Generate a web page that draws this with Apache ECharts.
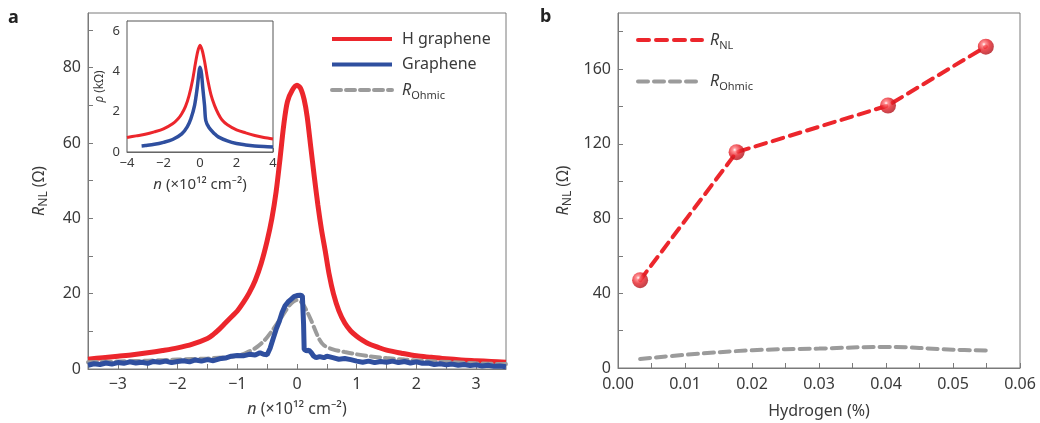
<!DOCTYPE html>
<html>
<head>
<meta charset="utf-8">
<script src="https://cdn.jsdelivr.net/npm/echarts@6/dist/echarts.min.js"></script>
<style>
  html, body { margin: 0; padding: 0; background: #fff; }
  #chart { width: 1040px; height: 423px; }
</style>
</head>
<body>
<div id="chart"></div>
<script>
// ---- panel a, main plot: n (x10^12 cm^-2) vs R_NL (ohm)
const hGraphene = [
  [-3.5,2.6],[-3.25,3.0],[-3.0,3.4],[-2.75,3.8],[-2.5,4.3],[-2.25,4.9],[-2.0,5.6],[-1.75,6.6],
  [-1.5,8.1],[-1.4,9.2],[-1.3,10.6],[-1.2,12.2],[-1.1,13.8],[-1.0,15.4],[-0.9,17.6],[-0.8,20.2],
  [-0.7,23.5],[-0.6,28.0],[-0.5,34.0],[-0.42,40],[-0.35,47],[-0.29,55],[-0.22,65],[-0.16,71],
  [-0.08,74],[0,75.3],[0.06,74.5],[0.12,71.5],[0.17,67],[0.23,59],[0.29,51],[0.35,43.5],
  [0.41,37],[0.47,31.6],[0.54,25],[0.61,20],[0.7,15.5],[0.8,12.2],[0.9,10.1],[1.0,8.7],
  [1.1,7.6],[1.2,6.7],[1.35,5.8],[1.5,5.0],[1.75,4.2],[2.0,3.5],[2.25,3.1],[2.5,2.7],
  [2.75,2.4],[3.0,2.2],[3.25,2.0],[3.5,1.8]
];
const graphene = [
  [-3.5,1.0],[-3.4,1.4],[-3.3,1.2],[-3.2,1.6],[-3.1,1.3],[-3.0,1.7],[-2.9,1.5],[-2.8,1.9],
  [-2.7,1.6],[-2.6,1.8],[-2.5,1.5],[-2.4,2.0],[-2.3,1.8],[-2.2,2.1],[-2.1,1.7],[-2.0,2.0],
  [-1.9,2.2],[-1.8,1.9],[-1.7,2.4],[-1.6,2.1],[-1.5,2.5],[-1.4,2.2],[-1.3,2.7],[-1.2,2.9],
  [-1.1,3.4],[-1.0,3.6],[-0.9,3.5],[-0.8,3.9],[-0.7,3.7],[-0.62,4.3],[-0.56,3.9],[-0.5,3.8],
  [-0.45,5.5],[-0.4,8.0],[-0.35,10.5],[-0.3,12.5],[-0.25,15.0],[-0.2,16.8],[-0.15,17.8],[-0.1,18.5],
  [-0.05,19.2],[0,19.5],[0.05,19.6],[0.09,19.4],[0.11,12],[0.12,5.2],[0.16,4.8],[0.2,5.0],
  [0.24,4.3],[0.28,3.4],[0.32,3.0],[0.38,3.3],[0.45,3.0],[0.5,3.4],[0.6,3.0],[0.7,2.6],
  [0.8,2.8],[0.9,2.5],[1.0,2.1],[1.1,1.8],[1.2,2.1],[1.3,1.7],[1.4,2.0],[1.5,1.8],
  [1.6,2.1],[1.7,1.7],[1.8,2.0],[1.9,1.6],[2.0,1.9],[2.1,1.5],[2.2,1.6],[2.3,1.2],
  [2.4,1.4],[2.5,1.1],[2.6,1.3],[2.7,1.0],[2.8,1.2],[2.9,0.9],[3.0,1.1],[3.1,0.8],
  [3.2,1.0],[3.3,0.7],[3.4,0.8],[3.5,0.6]
];
const rOhmicA = [
  [-3.5,1.8],[-3.0,2.0],[-2.5,2.2],[-2.0,2.5],[-1.5,2.8],[-1.2,3.1],[-1.0,3.5],[-0.85,4.3],
  [-0.7,5.5],[-0.55,7.5],[-0.4,10.5],[-0.25,14],[-0.12,17],[0,18.3],[0.08,17.6],[0.16,15.5],
  [0.24,12.8],[0.3,10.5],[0.37,8.0],[0.45,6.3],[0.6,5.2],[0.8,4.5],[1.0,3.9],[1.2,3.4],
  [1.5,2.9],[1.8,2.5],[2.2,2.1],[2.6,1.8],[3.0,1.5],[3.5,1.3]
];

// ---- panel a, inset: n vs rho (kohm)
const insetH = [
  [-4,0.72],[-3.5,0.8],[-3,0.88],[-2.5,1.0],[-2,1.15],[-1.5,1.4],[-1.2,1.65],[-1,1.9],
  [-0.8,2.25],[-0.6,2.8],[-0.4,3.6],[-0.25,4.4],[-0.12,5.0],[0,5.3],[0.12,5.05],[0.25,4.5],
  [0.4,3.7],[0.6,2.85],[0.8,2.3],[1,1.9],[1.2,1.6],[1.5,1.35],[2,1.1],[2.5,0.95],
  [3,0.82],[3.5,0.72],[4,0.65]
];
const insetG = [
  [-3.2,0.3],[-3,0.32],[-2.5,0.38],[-2,0.48],[-1.5,0.62],[-1,0.9],[-0.7,1.25],[-0.5,1.65],
  [-0.3,2.3],[-0.15,3.2],[-0.05,4.0],[0,4.2],[0.08,3.9],[0.15,3.2],[0.25,2.3],[0.32,1.55],
  [0.5,1.2],[0.8,0.9],[1,0.75],[1.5,0.55],[2,0.42],[2.5,0.35],[3,0.3],[3.5,0.27],[4,0.25]
];

// ---- panel b: hydrogen (%) vs resistance
const rnlPoints = [[0.0033,47],[0.0177,115.5],[0.0403,140.5],[0.0549,172]];
const rOhmicB = [[0.0033,4.8],[0.0102,7.1],[0.0201,9.5],[0.03,10.4],[0.04,11.3],[0.05,9.8],[0.0553,9.3]];

// ---- ticks / labels
const aXTicks = [-3,-2.5,-2,-1.5,-1,-0.5,0,0.5,1,1.5,2,2.5,3];
const aXLabels = [-3,-2,-1,0,1,2,3];
const aYTicks = [0,10,20,30,40,50,60,70,80,90];
const aYLabels = [0,20,40,60,80];
const inXTicks = [-4,-3,-2,-1,0,1,2,3,4];
const inXLabels = [-4,-2,0,2,4];
const inYTicks = [0,1,2,3,4,5,6];
const inYLabels = [0,2,4,6];
const bXTicks = [0,0.005,0.01,0.015,0.02,0.025,0.03,0.035,0.04,0.045,0.05,0.055,0.06];
const bXLabels = [0,0.01,0.02,0.03,0.04,0.05,0.06];
const bYTicks = [0,20,40,60,80,100,120,140,160,180];
const bYLabels = [0,40,80,120,160];

const FONT = 'Noto Sans';
const TXT = '#3a3a3a';
const AX = '#7a7a7a';
const RED = '#ec262c';
const BLUE = '#2f4f9f';
const GREY = '#9b9b9b';

const legendNames = {
  'H graphene': 'H graphene',
  'Graphene': 'Graphene',
  'R_Ohmic': '{i|R}{s|Ohmic}',
  'R_NL': '{i|R}{s|NL}',
  'R_Ohmic_b': '{i|R}{s|Ohmic}'
};
const minus = v => String(v).replace('-', '\u2212');

// italic letter + lowered subscript
function rich(size, subSize, lh) {
  return {
    i: { fontFamily: FONT, fontStyle: 'italic', fontSize: size, color: TXT, lineHeight: lh },
    s: { fontFamily: FONT, fontSize: subSize, color: TXT, lineHeight: subSize, verticalAlign: 'bottom' }
  };
}

function valueAxis(o) {
  return {
    type: 'value',
    gridIndex: o.grid,
    min: o.min, max: o.max,
    name: o.name, nameLocation: 'middle', nameGap: o.nameGap, nameRotate: o.rotate || 0,
    nameTextStyle: { fontFamily: FONT, fontSize: o.nameSize, color: TXT, lineHeight: o.nameSize + 6,
      rich: rich(o.nameSize, o.nameSize - 4, o.nameSize + 6) },
    axisLine: { show: true, onZero: false, lineStyle: { color: AX, width: 1 } },
    axisTick: { show: true, inside: true, length: o.tickLen || 5, customValues: o.ticks, lineStyle: { color: AX } },
    axisLabel: {
      customValues: o.labels, margin: o.margin, fontFamily: FONT, fontSize: o.labelSize, color: TXT,
      formatter: o.fmt || (v => minus(v))
    },
    splitLine: { show: false }
  };
}

const chart = echarts.init(document.getElementById('chart'));
chart.setOption({
  animation: false,
  backgroundColor: '#fff',
  graphic: [
    { type: 'text', left: 8, top: 9, style: { text: 'a', fontFamily: FONT, fontWeight: 'bold', fontSize: 18, fill: '#222' } },
    { type: 'text', left: 540, top: 8, style: { text: 'b', fontFamily: FONT, fontWeight: 'bold', fontSize: 18, fill: '#222' } }
  ],
  grid: [
    { left: 88, top: 13, width: 418, height: 356, show: true, borderColor: AX, borderWidth: 1, outerBoundsMode: 'none' },
    { left: 127, top: 21, width: 146, height: 131, show: true, borderColor: '#555', borderWidth: 1, backgroundColor: '#fff', z: 3, outerBoundsMode: 'none' },
    { left: 618, top: 13, width: 402, height: 355, show: true, borderColor: AX, borderWidth: 1, outerBoundsMode: 'none' }
  ],
  legend: [
    {
      data: ['H graphene', 'Graphene', 'R_Ohmic'], orient: 'vertical', left: 330, top: 28,
      itemWidth: 60, itemHeight: 14, itemGap: 3.5, padding: 0,
      itemStyle: { opacity: 0 }, lineStyle: { width: 4 },
      formatter: n => legendNames[n],
      textStyle: { fontFamily: FONT, fontSize: 16, color: TXT, lineHeight: 22, padding: [0, 0, 0, 5], rich: rich(16, 11, 22) }
    },
    {
      data: ['R_NL', 'R_Ohmic_b'], orient: 'vertical', left: 636, top: 29,
      itemWidth: 64, itemHeight: 14, itemGap: 19.6, padding: 0,
      itemStyle: { opacity: 0 }, lineStyle: { width: 4 },
      formatter: n => legendNames[n],
      textStyle: { fontFamily: FONT, fontSize: 16, color: TXT, lineHeight: 22, padding: [0, 0, 0, 3], rich: rich(16, 11, 22) }
    }
  ],
  xAxis: [
    valueAxis({ grid: 0, min: -3.5, max: 3.5, ticks: aXTicks, labels: aXLabels, margin: 7, labelSize: 16,
      name: '{i|n} (\u00d710\u00b9\u00b2 cm\u207b\u00b2)', nameGap: 29, nameSize: 16 }),
    valueAxis({ grid: 1, min: -4, max: 4, ticks: inXTicks, labels: inXLabels, margin: 5, labelSize: 13, tickLen: 4,
      name: '{i|n} (\u00d710\u00b9\u00b2 cm\u207b\u00b2)', nameGap: 22, nameSize: 15 }),
    valueAxis({ grid: 2, min: 0, max: 0.06, ticks: bXTicks, labels: bXLabels, margin: 8, labelSize: 16,
      fmt: v => v.toFixed(2), name: 'Hydrogen (%)', nameGap: 32, nameSize: 16 })
  ],
  yAxis: [
    valueAxis({ grid: 0, min: 0, max: 94.5, ticks: aYTicks, labels: aYLabels, margin: 7, labelSize: 16,
      name: '{i|R}{s|NL} (\u03a9)', nameGap: 38, nameSize: 16, rotate: 90 }),
    valueAxis({ grid: 1, min: 0, max: 6.5, ticks: inYTicks, labels: inYLabels, margin: 7, labelSize: 13, tickLen: 4,
      name: '{i|\u03c1} (k\u03a9)', nameGap: 16, nameSize: 12, rotate: 90 }),
    valueAxis({ grid: 2, min: 0, max: 190, ticks: bYTicks, labels: bYLabels, margin: 7, labelSize: 16,
      name: '{i|R}{s|NL} (\u03a9)', nameGap: 44, nameSize: 16, rotate: 90 })
  ],
  series: [
    { name: 'H graphene', type: 'line', xAxisIndex: 0, yAxisIndex: 0, data: hGraphene, symbol: 'none', smooth: 0.3,
      lineStyle: { color: RED, width: 5 }, itemStyle: { color: RED } },
    { name: 'R_Ohmic', type: 'line', xAxisIndex: 0, yAxisIndex: 0, data: rOhmicA, symbol: 'none', smooth: 0.3,
      lineStyle: { color: GREY, width: 4, type: [9, 5], cap: 'round' }, itemStyle: { color: GREY } },
    { name: 'Graphene', type: 'line', xAxisIndex: 0, yAxisIndex: 0, data: graphene, symbol: 'none',
      lineStyle: { color: BLUE, width: 5 }, itemStyle: { color: BLUE } },
    { name: 'inset H', type: 'line', xAxisIndex: 1, yAxisIndex: 1, data: insetH, symbol: 'none', smooth: 0.3, z: 4,
      lineStyle: { color: RED, width: 3 } },
    { name: 'inset G', type: 'line', xAxisIndex: 1, yAxisIndex: 1, data: insetG, symbol: 'none', smooth: 0.3, z: 4,
      lineStyle: { color: BLUE, width: 3.5 } },
    { name: 'R_Ohmic_b', type: 'line', xAxisIndex: 2, yAxisIndex: 2, data: rOhmicB, symbol: 'none', smooth: 0.4,
      lineStyle: { color: GREY, width: 4, type: [10, 6], cap: 'round' }, itemStyle: { color: GREY } },
    { name: 'R_NL', type: 'line', xAxisIndex: 2, yAxisIndex: 2, data: rnlPoints, symbol: 'none',
      lineStyle: { color: RED, width: 4, type: [11, 7], cap: 'round' }, itemStyle: { color: RED } },
    { name: 'R_NL points', type: 'scatter', xAxisIndex: 2, yAxisIndex: 2, data: rnlPoints, symbolSize: 16, z: 5,
      itemStyle: {
        color: {
          type: 'radial', x: 0.38, y: 0.35, r: 0.65,
          colorStops: [
            { offset: 0, color: '#ffffff' },
            { offset: 0.18, color: '#ff7a7e' },
            { offset: 0.55, color: '#e8222a' },
            { offset: 1, color: '#b3121a' }
          ]
        }
      } }
  ]
});
</script>
</body>
</html>
